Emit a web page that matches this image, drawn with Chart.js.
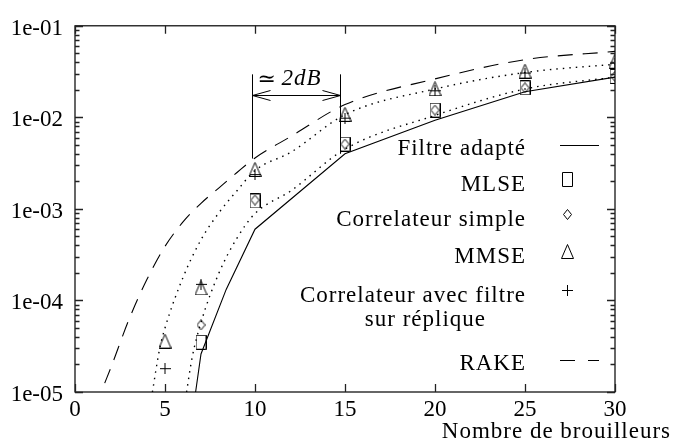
<!DOCTYPE html>
<html>
<head>
<meta charset="utf-8">
<script src="https://cdn.jsdelivr.net/npm/chart.js@4.4.1/dist/chart.umd.min.js"></script>
<style>
  html, body { margin: 0; padding: 0; background: #fff; }
  canvas { display: block; }
</style>
</head>
<body>
<canvas id="chart" width="677" height="445"></canvas>
<script>
// valeurs
const xTicks = [0, 5, 10, 15, 20, 25, 30];
const yTickLabels = ['1e-05', '1e-04', '1e-03', '1e-02', '1e-01'];
const yMinorSteps = [2, 3, 4, 5, 6, 7, 8, 9];

const filtreX = [6.7, 7, 8.4, 10, 15, 20, 25, 30];
const filtreY = [1e-5, 2.6e-5, 1.32e-4, 6.0e-4, 4.0e-3, 9.3e-3, 1.9e-2, 2.75e-2];

const mlseX = [7, 10, 15, 20, 25, 30];
const mlseY = [3.5e-5, 1.22e-3, 5.1e-3, 1.2e-2, 2.1e-2, 2.8e-2];

const corrX = [7, 10, 15, 20, 25, 30];
const corrY = [5.4e-5, 1.25e-3, 5.1e-3, 1.2e-2, 2.1e-2, 2.8e-2];

const mmseX = [5, 7, 10, 15, 20, 25, 30];
const mmseY = [3.6e-5, 1.37e-4, 2.7e-3, 1.08e-2, 2.05e-2, 3.2e-2, 4.1e-2];

const repliqueX = [5, 7, 10, 15, 20, 25, 30];
const repliqueY = [1.8e-5, 1.5e-4, 2.37e-3, 9.8e-3, 1.95e-2, 3.05e-2, 3.9e-2];

const rakeX = [1.65, 2, 3, 4, 5, 6, 7, 8, 9, 10, 12, 15, 20, 25, 30];
const rakeY = [1.25e-5, 1.86e-5, 6.2e-5, 1.7e-4, 3.9e-4, 7.2e-4, 1.15e-3, 1.7e-3, 2.5e-3, 3.6e-3, 6.2e-3, 1.38e-2, 2.63e-2, 4.27e-2, 5.25e-2];

// courbes en pointillés
const fitHautX = [4.3, 4.7, 5, 6, 7, 8, 9, 10, 12, 15, 20, 25, 30];
const fitHautY = [1e-5, 2.95e-5, 5.0e-5, 1.78e-4, 4.6e-4, 9.1e-4, 1.58e-3, 2.63e-3, 4.17e-3, 1.07e-2, 2.04e-2, 3.09e-2, 3.8e-2];
const fitBasX = [6.2, 6.5, 7, 8, 9, 10, 12, 15, 20, 25, 30];
const fitBasY = [1e-5, 2.34e-5, 5.75e-5, 2.0e-4, 4.8e-4, 8.9e-4, 1.58e-3, 4.5e-3, 1.05e-2, 2.04e-2, 2.75e-2];

// annotation "~ 2dB"
const annotX = [9.86, 14.7];
const annotYTop = 2.95e-2;
const annotYBottom = [3.55e-3, 4.0e-3];
const annotYArrow = 1.74e-2;

const FONT = '23px "Liberation Serif", "Times New Roman", serif';

function pts(xs, ys) {
    return xs.map((x, i) => ({ x: x, y: ys[i] }));
}

function makeMarker(w, h, draw) {
    const c = document.createElement('canvas');
    c.width = w;
    c.height = h;
    const g = c.getContext('2d');
    g.strokeStyle = '#000';
    g.lineWidth = 1;
    g.beginPath();
    draw(g);
    g.stroke();
    return c;
}

const square = makeMarker(11, 15, g => g.rect(0.5, 0.5, 10, 14));
const diamond = makeMarker(9, 11, g => {
    g.moveTo(4.5, 0.5); g.lineTo(8.5, 5.5); g.lineTo(4.5, 10.5); g.lineTo(0.5, 5.5); g.closePath();
});
const triangle = makeMarker(13, 15, g => {
    g.moveTo(6.5, 0.5); g.lineTo(12.5, 14.5); g.lineTo(0.5, 14.5); g.closePath();
});
const plus = makeMarker(11, 11, g => {
    g.moveTo(5.5, 0); g.lineTo(5.5, 11); g.moveTo(0, 5.5); g.lineTo(11, 5.5);
});

function lineSet(label, data, dash, width, smooth) {
    return {
        label: label,
        data: data,
        borderColor: '#000',
        borderWidth: width,
        borderDash: dash,
        pointRadius: 0,
        fill: false,
        showLine: true,
        cubicInterpolationMode: smooth ? 'monotone' : 'default',
        tension: 0
    };
}

function markerSet(label, data, style) {
    return {
        label: label,
        data: data,
        showLine: false,
        pointStyle: style,
        pointRadius: 6,
        borderColor: '#000',
        backgroundColor: '#000'
    };
}

const legendItems = [
    { text: ['Filtre adapté'], kind: 'solid' },
    { text: ['MLSE'], kind: square },
    { text: ['Correlateur simple'], kind: diamond },
    { text: ['MMSE'], kind: triangle },
    { text: ['Correlateur avec filtre', 'sur réplique'], kind: plus },
    { text: ['RAKE'], kind: 'dash' }
];

const decor = {
    id: 'decor',
    afterDraw(chart) {
        const ctx = chart.ctx;
        const a = chart.chartArea;
        const xs = chart.scales.x;
        const ys = chart.scales.y;
        ctx.save();
        ctx.strokeStyle = '#000';
        ctx.fillStyle = '#000';
        ctx.lineWidth = 1.2;
        ctx.setLineDash([]);
        ctx.strokeRect(a.left, a.top, a.right - a.left, a.bottom - a.top);

        // graduations vers l'intérieur
        ctx.lineWidth = 1.3;
        ctx.strokeStyle = '#222';
        ctx.beginPath();
        yTickLabels.forEach((lab, k) => {
            const base = Math.pow(10, k - 5);
            const marks = [{ v: base, len: 8 }];
            if (k < yTickLabels.length - 1) {
                yMinorSteps.forEach(m => marks.push({ v: m * base, len: 4.5 }));
            }
            marks.forEach(mk => {
                const py = Math.round(ys.getPixelForValue(mk.v)) + 0.5;
                ctx.moveTo(a.left, py); ctx.lineTo(a.left + mk.len, py);
                ctx.moveTo(a.right, py); ctx.lineTo(a.right - mk.len, py);
            });
        });
        xTicks.forEach(v => {
            const px = Math.round(xs.getPixelForValue(v)) + 0.5;
            ctx.moveTo(px, a.bottom); ctx.lineTo(px, a.bottom - 8);
            ctx.moveTo(px, a.top); ctx.lineTo(px, a.top + 8);
        });
        ctx.stroke();

        // annotation
        ctx.strokeStyle = '#000';
        const x1 = Math.round(xs.getPixelForValue(annotX[0])) + 0.5;
        const x2 = Math.round(xs.getPixelForValue(annotX[1])) + 0.5;
        const yTop = ys.getPixelForValue(annotYTop);
        const yA = Math.round(ys.getPixelForValue(annotYArrow)) + 0.5;
        ctx.lineWidth = 1;
        ctx.beginPath();
        ctx.moveTo(x1, yTop); ctx.lineTo(x1, ys.getPixelForValue(annotYBottom[0]));
        ctx.moveTo(x2, yTop); ctx.lineTo(x2, ys.getPixelForValue(annotYBottom[1]));
        ctx.moveTo(x1, yA); ctx.lineTo(x2, yA);
        ctx.moveTo(x1 + 18, yA - 5); ctx.lineTo(x1, yA); ctx.lineTo(x1 + 18, yA + 5);
        ctx.moveTo(x2 - 18, yA - 5); ctx.lineTo(x2, yA); ctx.lineTo(x2 - 18, yA + 5);
        ctx.stroke();
        ctx.textBaseline = 'alphabetic';
        ctx.textAlign = 'left';
        ctx.font = '22px "DejaVu Serif", serif';
        ctx.fillText('≃', x1 + 5, yA - 10);
        ctx.font = 'italic ' + FONT;
        ctx.letterSpacing = '1px';
        ctx.fillText('2dB', x1 + 29, yA - 11);

        // légende
        ctx.font = FONT;
        ctx.textAlign = 'right';
        const baselines = [155, 191, 226, 263, 302, 370];
        legendItems.forEach((it, i) => {
            const by = baselines[i];
            ctx.fillText(it.text[0], 526, by);
            if (it.text[1]) ctx.fillText(it.text[1], 486, by + 24);
            const cy = by - 10;
            if (it.kind === 'solid' || it.kind === 'dash') {
                ctx.beginPath();
                ctx.setLineDash(it.kind === 'dash' ? [15, 13] : []);
                ctx.moveTo(560, cy + 0.5); ctx.lineTo(599, cy + 0.5);
                ctx.stroke();
                ctx.setLineDash([]);
            } else {
                const m = it.kind;
                ctx.drawImage(m, Math.round(567 - m.width / 2), Math.round(cy - 2 - m.height / 2));
            }
        });

        // titre de l'axe x
        ctx.fillText('Nombre de brouilleurs', 671, 438);
        ctx.restore();
    }
};

new Chart(document.getElementById('chart'), {
    type: 'scatter',
    data: {
        datasets: [
            lineSet('Filtre adapté', pts(filtreX, filtreY), [], 1.1, false),
            lineSet('fit haut', pts(fitHautX, fitHautY), [1.5, 5], 1.4, true),
            lineSet('fit bas', pts(fitBasX, fitBasY), [1.5, 5], 1.4, true),
            lineSet('RAKE', pts(rakeX, rakeY), [15, 10], 1.1, true),
            markerSet('MLSE', pts(mlseX, mlseY), square),
            markerSet('Correlateur simple', pts(corrX, corrY), diamond),
            markerSet('MMSE', pts(mmseX, mmseY), triangle),
            markerSet('Correlateur avec filtre sur réplique', pts(repliqueX, repliqueY), plus)
        ]
    },
    options: {
        responsive: false,
        animation: false,
        devicePixelRatio: 1,
        layout: { padding: { top: 15, right: 62, left: 0, bottom: 0 } },
        plugins: {
            legend: { display: false },
            tooltip: { enabled: false }
        },
        scales: {
            x: {
                type: 'linear',
                min: 0,
                max: 30,
                afterBuildTicks: s => { s.ticks = xTicks.map(v => ({ value: v })); },
                ticks: {
                    color: '#000',
                    font: { family: 'Liberation Serif', size: 23 },
                    padding: 4,
                    maxRotation: 0
                },
                grid: { display: false, drawTicks: false },
                border: { display: false },
                afterFit: s => { s.height = 53; }
            },
            y: {
                type: 'logarithmic',
                min: 1e-5,
                max: 1e-1,
                afterBuildTicks: s => {
                    s.ticks = yTickLabels.map((lab, k) => ({ value: Math.pow(10, k - 5) }));
                },
                ticks: {
                    autoSkip: false,
                    color: '#000',
                    font: { family: 'Liberation Serif', size: 23 },
                    padding: 12,
                    labelOffset: 3,
                    callback: function (value) {
                        return yTickLabels[Math.round(Math.log10(value)) + 5];
                    }
                },
                grid: { display: false, drawTicks: false },
                border: { display: false },
                afterFit: s => { s.width = 75; }
            }
        }
    },
    plugins: [decor]
});
</script>
</body>
</html>
